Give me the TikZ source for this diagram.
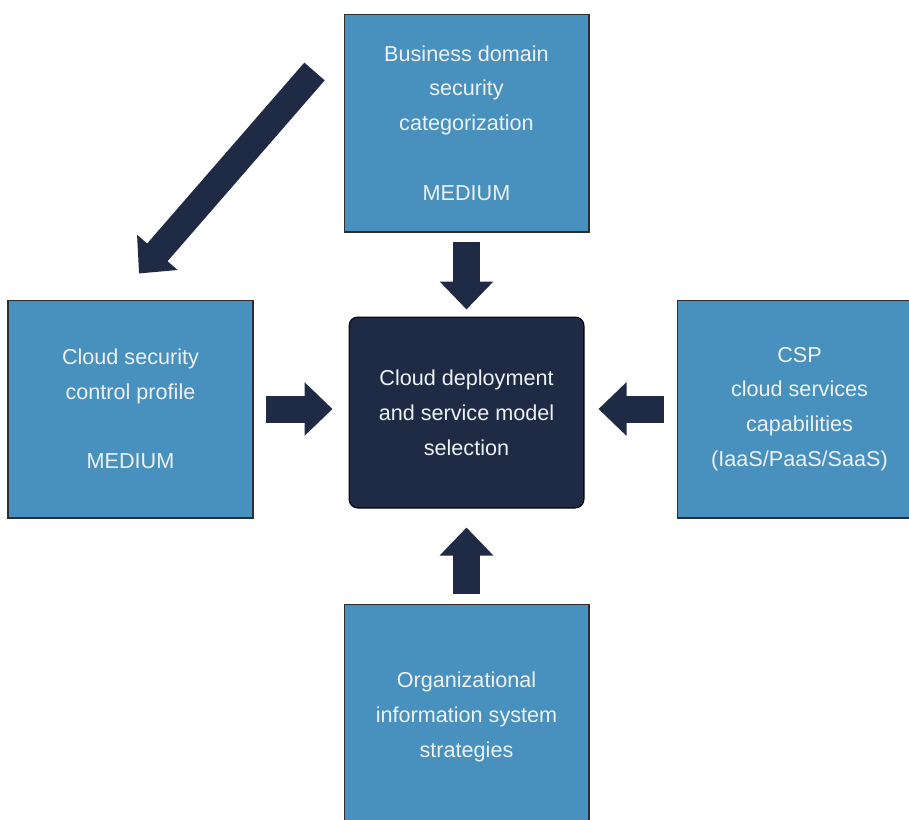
\documentclass[tikz,border=0pt]{standalone}
\usepackage{fontspec}
\setsansfont{Liberation Sans}
\usetikzlibrary{arrows.meta,positioning}

\definecolor{boxblue}{HTML}{4890BD}
\definecolor{navy}{HTML}{1F2A44}
\definecolor{edgegray}{HTML}{2E2E2E}
\definecolor{paletext}{HTML}{EEF2F5}

\begin{document}
\begin{tikzpicture}[
  x=0.02cm, y=-0.02cm,
  inbox/.style={rectangle, draw=edgegray, line width=0.6pt, fill=boxblue, text=paletext,
    minimum width=4.9cm, minimum height=4.36cm, align=center,
    font=\sffamily\fontsize{12.3}{19.8}\selectfont},
  core/.style={rectangle, draw=black, line width=0.6pt, fill=navy, text=paletext, rounded corners=5pt,
    minimum width=4.7cm, minimum height=3.82cm, align=center,
    font=\sffamily\fontsize{12.3}{19.8}\selectfont},
  blockarrow/.style={draw=navy, line width=0.54cm, -{Triangle[length=0.56cm, width=1.04cm]}}
]
\clip (0,0) rectangle (909,819);
\useasboundingbox (0,0) rectangle (909,819);

% Nodes
\node[core] (deploy) at (466.5,412.5) {Cloud deployment\\and service model\\selection};
\node[inbox] (bizcat) at (466.5,123) {Business domain\\security\\categorization\\[19.8pt]MEDIUM};
\node[inbox] (ctrlprof) at (130.5,409) {Cloud security\\control profile\\[19.8pt]MEDIUM};
\node[inbox] (cspcap) at (799.5,409) {CSP\\cloud services\\capabilities\\(IaaS/PaaS/SaaS)};
\node[inbox, minimum height=4.52cm] (orgstrat) at (466.5,717) {Organizational\\information system\\strategies};

% Arrows
\draw[blockarrow] ([yshift=-0.18cm]bizcat.south) -- ([yshift=0.14cm]deploy.north);
\draw[blockarrow] ([xshift=0.24cm]ctrlprof.east) -- ([xshift=-0.32cm]ctrlprof.east -| deploy.west);
\draw[blockarrow] ([xshift=-0.26cm]cspcap.west) -- ([xshift=0.28cm]cspcap.west -| deploy.east);
\draw[blockarrow] ([yshift=0.2cm]orgstrat.north) -- ([yshift=-0.38cm]deploy.south);
\draw[blockarrow] ([shift={(-0.58cm,-1.16cm)}]bizcat.north west) -- ([shift={(0.17cm,0.52cm)}]ctrlprof.north);

\end{tikzpicture}
\end{document}
